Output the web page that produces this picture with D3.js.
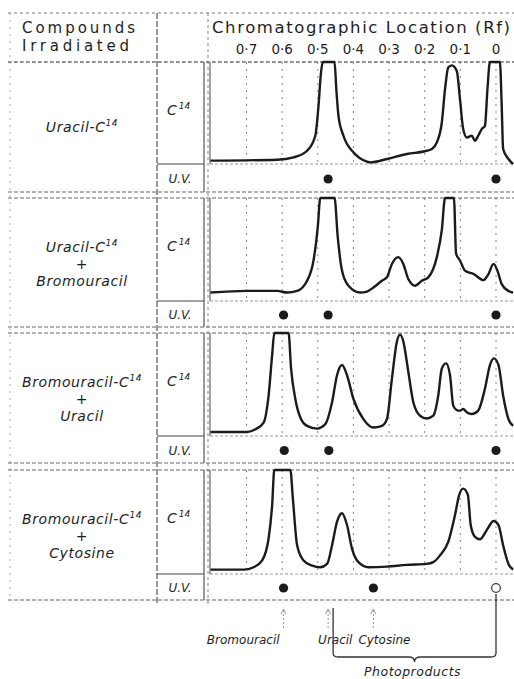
<!DOCTYPE html>
<html>
<head>
<meta charset="utf-8">
<script src="https://cdn.jsdelivr.net/npm/d3@7"></script>
<style>
  body { margin: 0; background: #fff; }
  svg { display: block; }
  text { fill: #1e1e1e; }
</style>
</head>
<body>
<svg id="chart" width="514" height="679"></svg>
<script>
// Rf tick labels along the top
const rfTicks = [0.7, 0.6, 0.5, 0.4, 0.3, 0.2, 0.1, 0];

// compound names, "^" marks a superscript
const compoundLines = [
  ["Uracil-C^14"],
  ["Uracil-C^14", "+", "Bromouracil"],
  ["Bromouracil-C^14", "+", "Uracil"],
  ["Bromouracil-C^14", "+", "Cytosine"]
];

// C14 activity traces, [Rf, relative counts], 1 = off scale (clipped)
const trace1 = [
  [0.801, 0.033], [0.614, 0.042], [0.568, 0.065], [0.530, 0.13], [0.507, 0.277],
  [0.498, 0.57], [0.491, 0.896], [0.486, 1], [0.453, 1], [0.448, 0.733],
  [0.442, 0.472], [0.428, 0.277], [0.400, 0.114], [0.362, 0.023], [0.353, 0.016],
  [0.306, 0.049], [0.250, 0.098], [0.194, 0.13], [0.180, 0.147], [0.166, 0.212],
  [0.152, 0.407], [0.143, 0.733], [0.134, 0.945], [0.124, 0.967], [0.110, 0.912],
  [0.101, 0.635], [0.092, 0.342], [0.082, 0.26], [0.068, 0.277], [0.059, 0.228],
  [0.050, 0.277], [0.040, 0.342], [0.031, 0.375], [0.024, 0.733], [0.017, 1],
  [-0.011, 1], [-0.016, 0.57], [-0.020, 0.147], [-0.035, 0.049], [-0.048, 0.0]
];
const trace2 = [
  [0.801, 0.082], [0.698, 0.098], [0.614, 0.098], [0.586, 0.082], [0.558, 0.098],
  [0.530, 0.197], [0.512, 0.393], [0.500, 0.72], [0.493, 1], [0.453, 1],
  [0.444, 0.62], [0.432, 0.295], [0.414, 0.148], [0.381, 0.082], [0.362, 0.092],
  [0.344, 0.131], [0.320, 0.197], [0.306, 0.23], [0.292, 0.36], [0.274, 0.426],
  [0.260, 0.36], [0.246, 0.213], [0.227, 0.148], [0.208, 0.197], [0.190, 0.23],
  [0.166, 0.426], [0.152, 0.69], [0.143, 1], [0.118, 1], [0.112, 0.46],
  [0.101, 0.393], [0.087, 0.295], [0.063, 0.262], [0.035, 0.203], [0.021, 0.262],
  [0.007, 0.36], [-0.004, 0.295], [-0.016, 0.164], [-0.035, 0.098], [-0.048, 0.082]
];
const trace3 = [
  [0.801, 0.039], [0.698, 0.039], [0.675, 0.066], [0.652, 0.131], [0.638, 0.393],
  [0.628, 0.787], [0.622, 1], [0.582, 1], [0.575, 0.656], [0.563, 0.36],
  [0.549, 0.18], [0.530, 0.098], [0.502, 0.072], [0.479, 0.115], [0.460, 0.328],
  [0.446, 0.59], [0.432, 0.689], [0.418, 0.59], [0.400, 0.36], [0.372, 0.164],
  [0.344, 0.082], [0.320, 0.098], [0.306, 0.164], [0.292, 0.557], [0.278, 0.918],
  [0.269, 0.984], [0.260, 0.918], [0.246, 0.623], [0.232, 0.328], [0.213, 0.197],
  [0.194, 0.17], [0.176, 0.197], [0.162, 0.393], [0.152, 0.656], [0.140, 0.705],
  [0.129, 0.59], [0.120, 0.295], [0.110, 0.252], [0.101, 0.246], [0.092, 0.262],
  [0.082, 0.23], [0.068, 0.213], [0.050, 0.246], [0.031, 0.459], [0.017, 0.689],
  [0.006, 0.754], [-0.007, 0.689], [-0.020, 0.393], [-0.035, 0.164], [-0.048, 0.098]
];
const trace4 = [
  [0.801, 0.042], [0.708, 0.042], [0.680, 0.065], [0.656, 0.13], [0.638, 0.341],
  [0.628, 0.666], [0.622, 1], [0.577, 1], [0.570, 0.73], [0.558, 0.276],
  [0.540, 0.13], [0.516, 0.081], [0.493, 0.065], [0.474, 0.097], [0.460, 0.276],
  [0.446, 0.503], [0.432, 0.584], [0.418, 0.471], [0.404, 0.244], [0.386, 0.114],
  [0.358, 0.065], [0.306, 0.071], [0.250, 0.088], [0.194, 0.097], [0.176, 0.114],
  [0.157, 0.179], [0.134, 0.308], [0.115, 0.568], [0.103, 0.763], [0.092, 0.821],
  [0.079, 0.763], [0.071, 0.471], [0.059, 0.357], [0.045, 0.334], [0.026, 0.422],
  [0.007, 0.51], [-0.007, 0.471], [-0.020, 0.276], [-0.035, 0.097], [-0.048, 0.042]
];
const traces = [trace1, trace2, trace3, trace4];

// U.V.-absorbing spots (Rf); open spots drawn hollow
const uvFilled = [[0.471, 0], [0.596, 0.471, 0], [0.594, 0.469, 0], [0.596, 0.344]];
const uvOpen = [[], [], [], [0]];

// reference compounds marked below the chart
const refNames = ["Bromouracil", "Uracil", "Cytosine"];
const refRf = [0.596, 0.471, 0.344];
const photoRange = [0.457, 0];

// ---- layout ----
const svg = d3.select('#chart');
const W = 514;
const ink = '#1b1b1b';
const gridCol = '#8a8a8a';
const col1 = 157, col2 = 204, plotLeft = 210;
const headTop = 13, headBottom = 62;
const panels = [
  { top: 62, base: 164, bottom: 192 },
  { top: 198, base: 301, bottom: 327 },
  { top: 333, base: 436, bottom: 463 },
  { top: 470, base: 574, bottom: 600 }
];

const x = d3.scaleLinear().domain([0.7, 0]).range([246.5, 496]);

const dashed = (sel, color, dash, w) => sel
  .attr('stroke', color).attr('stroke-width', w || 1)
  .attr('stroke-dasharray', dash).attr('fill', 'none');

// header
const hLines = [headTop, headBottom];
svg.selectAll('.hline').data(hLines).enter().append('line')
  .attr('x1', 8).attr('x2', W).attr('y1', d => d).attr('y2', d => d)
  .call(dashed, '#777', '3,3', 1);

svg.append('text').attr('x', 22).attr('y', 33)
  .attr('font-family', 'DejaVu Sans').attr('font-size', 15)
  .attr('textLength', 113).attr('lengthAdjust', 'spacing')
  .text('Compounds');
svg.append('text').attr('x', 22).attr('y', 51)
  .attr('font-family', 'DejaVu Sans').attr('font-size', 15)
  .attr('textLength', 107).attr('lengthAdjust', 'spacing')
  .text('Irradiated');
svg.append('text').attr('x', 212).attr('y', 33)
  .attr('font-family', 'DejaVu Sans').attr('font-size', 16.5)
  .attr('textLength', 298).attr('lengthAdjust', 'spacing')
  .text('Chromatographic Location (Rf)');

svg.selectAll('.rf').data(rfTicks).enter().append('text')
  .attr('x', d => x(d)).attr('y', 54)
  .attr('text-anchor', 'middle')
  .attr('font-family', 'DejaVu Sans').attr('font-size', 13.5)
  .text(d => d === 0 ? '0' : '0·' + Math.round(d * 10));

// column dividers
svg.append('line').attr('x1', 10).attr('x2', 10).attr('y1', headTop).attr('y2', 600)
  .call(dashed, '#b0b0b0', '2,5', 1);
svg.append('line').attr('x1', col1).attr('x2', col1).attr('y1', headTop).attr('y2', 604)
  .call(dashed, '#555', '6,2', 1.2);
svg.append('line').attr('x1', plotLeft - 2).attr('x2', plotLeft - 2).attr('y1', headTop).attr('y2', 604)
  .call(dashed, '#888', '3,3', 1);

const line = d3.line()
  .x(d => x(d[0]))
  .curve(d3.curveMonotoneX);

panels.forEach((p, i) => {
  const y = d3.scaleLinear().domain([0, 1]).range([p.base, p.top]);
  const g = svg.append('g').attr('class', 'panel');

  // panel border lines
  g.append('line').attr('x1', 8).attr('x2', W).attr('y1', p.top).attr('y2', p.top)
    .call(dashed, '#666', '4,2', 1);
  g.append('line').attr('x1', 8).attr('x2', W).attr('y1', p.bottom).attr('y2', p.bottom)
    .call(dashed, '#666', '4,2', 1);
  g.append('line').attr('x1', plotLeft).attr('x2', W).attr('y1', p.base).attr('y2', p.base)
    .call(dashed, '#9a9a9a', '3,2', 1);

  // C14 / U.V. boxes
  g.append('line').attr('x1', col1).attr('x2', col2).attr('y1', p.base).attr('y2', p.base)
    .attr('stroke', '#444').attr('stroke-width', 1.2);
  g.append('line').attr('x1', col2).attr('x2', col2).attr('y1', p.top).attr('y2', p.bottom)
    .attr('stroke', '#555').attr('stroke-width', 1.2);
  g.append('line').attr('x1', plotLeft).attr('x2', plotLeft).attr('y1', p.top).attr('y2', p.base)
    .attr('stroke', '#666').attr('stroke-width', 1.2);

  // Rf grid
  g.selectAll('.grid').data(rfTicks).enter().append('line')
    .attr('x1', d => x(d)).attr('x2', d => x(d))
    .attr('y1', p.top).attr('y2', p.base)
    .call(dashed, gridCol, '2,5', 1);

  const c = g.append('text').attr('x', 167).attr('y', p.top + 53)
    .attr('font-family', 'DejaVu Sans').attr('font-style', 'italic').attr('font-size', 14);
  c.append('tspan').text('C');
  c.append('tspan').attr('dy', -6).attr('dx', 2).attr('font-size', 9).text('14');

  g.append('text').attr('x', 180).attr('y', (p.base + p.bottom) / 2 + 5)
    .attr('text-anchor', 'middle')
    .attr('font-family', 'DejaVu Sans').attr('font-style', 'italic').attr('font-size', 12)
    .text('U.V.');

  // compound label
  const lines = compoundLines[i];
  const mid = (p.top + p.base) / 2 + 14 - (lines.length - 1) * 8.5;
  lines.forEach((s, k) => {
    const t = g.append('text').attr('x', 82).attr('y', mid + k * 17 + 5)
      .attr('text-anchor', 'middle')
      .attr('font-family', 'DejaVu Sans').attr('font-style', 'italic')
      .attr('font-size', 14).attr('letter-spacing', 0.6);
    const parts = s.split('^');
    t.append('tspan').text(parts[0]);
    if (parts[1]) t.append('tspan').attr('dy', -6).attr('font-size', 9).text(parts[1]);
  });

  // trace
  g.append('path')
    .attr('d', line.y(d => y(Math.min(1, d[1])))(traces[i]))
    .attr('fill', 'none').attr('stroke', ink).attr('stroke-width', 2.4)
    .attr('stroke-linejoin', 'round');

  // U.V. spots
  const sy = (p.base + p.bottom) / 2 + 1;
  g.selectAll('.uv').data(uvFilled[i]).enter().append('circle')
    .attr('cx', d => x(d)).attr('cy', sy).attr('r', 4.6).attr('fill', ink);
  g.selectAll('.uvo').data(uvOpen[i]).enter().append('circle')
    .attr('cx', d => x(d)).attr('cy', sy).attr('r', 4.4)
    .attr('fill', 'none').attr('stroke', '#444').attr('stroke-width', 1.3);
});

// reference markers below
const ann = svg.append('g');
refRf.forEach(r => {
  ann.append('line').attr('x1', x(r)).attr('x2', x(r)).attr('y1', 610).attr('y2', 630)
    .call(dashed, '#999', '2,2', 1);
  ann.append('path')
    .attr('d', `M${x(r) - 2.5},${614} L${x(r)},${609} L${x(r) + 2.5},${614}`)
    .attr('fill', 'none').attr('stroke', '#999').attr('stroke-width', 1);
});

const nameX = [x(refRf[0]) - 4, x(refRf[1]) - 10, x(refRf[2]) - 15];
const nameAnchor = ['end', 'start', 'start'];
refNames.forEach((n, k) => {
  ann.append('text').attr('x', nameX[k]).attr('y', 644)
    .attr('text-anchor', nameAnchor[k])
    .attr('font-family', 'DejaVu Sans').attr('font-style', 'italic').attr('font-size', 12)
    .text(n);
});

// photoproducts bracket
const bx0 = x(photoRange[0]), bx1 = x(photoRange[1]), bm = (bx0 + bx1) / 2;
ann.append('path')
  .attr('d', `M${bx0},608 L${bx0},653 Q${bx0},657 ${bx0 + 5},657 L${bm - 6},657 Q${bm},657 ${bm},662 ` +
    `Q${bm},657 ${bm + 6},657 L${bx1 - 5},657 Q${bx1},657 ${bx1},653 L${bx1},594`)
  .attr('fill', 'none').attr('stroke', '#333').attr('stroke-width', 1.3);

ann.append('text').attr('x', (bx0 + bx1) / 2 - 2).attr('y', 676)
  .attr('text-anchor', 'middle')
  .attr('font-family', 'DejaVu Sans').attr('font-style', 'italic').attr('font-size', 12.5)
  .attr('letter-spacing', 0.5)
  .text('Photoproducts');
</script>
</body>
</html>
